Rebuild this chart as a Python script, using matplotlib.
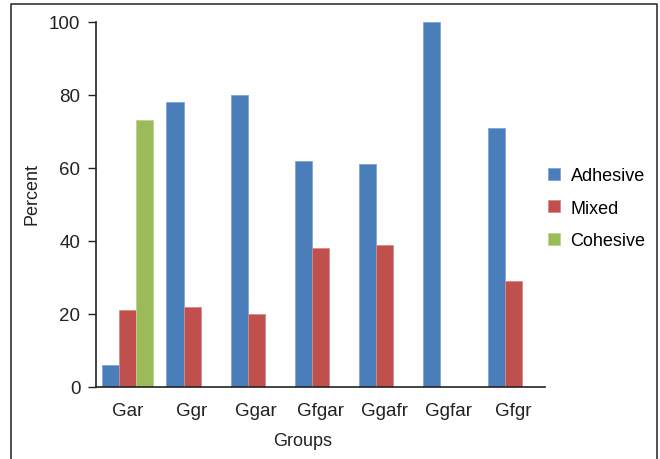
import numpy as np
import matplotlib
matplotlib.use("Agg")
import matplotlib.pyplot as plt
from matplotlib.lines import Line2D

plt.rcParams['font.family'] = ['Liberation Sans', 'DejaVu Sans']

groups = ["Gar", "Ggr", "Ggar", "Gfgar", "Ggafr", "Ggfar", "Gfgr"]
adhesive = [6, 78, 80, 62, 61, 100, 71]
mixed = [21, 22, 20, 38, 39, 0, 29]
cohesive = [73, 0, 0, 0, 0, 0, 0]

series = [("Adhesive", adhesive, "#4A7EBB", "#7FA6D6"),
          ("Mixed", mixed, "#C0504D", "#D98A88"),
          ("Cohesive", cohesive, "#9BBB59", "#BDD38F")]

fig = plt.figure(figsize=(6.6, 4.6), dpi=100)
ax = fig.add_axes([0.145, 0.157, 0.681, 0.793])

x = np.arange(len(groups))
w = 0.265
for i, (name, vals, col, edge) in enumerate(series):
    ax.bar(x + (i - 1) * w, vals, width=w, color=col, edgecolor=edge,
           linewidth=0.6, label=name)

ax.set_xlim(-0.5, len(groups) - 0.5)
ax.set_ylim(0, 100)
ax.set_yticks(range(0, 101, 20))
ax.set_xticks(x)
ax.set_xticklabels(groups)
ax.tick_params(axis='x', length=0, pad=11, labelsize=13.5, colors="#222222")
ax.tick_params(axis='y', length=6, width=1, direction='out', labelsize=13.5,
               pad=5, colors="#222222")
for s in ["top", "right"]:
    ax.spines[s].set_visible(False)
for s in ["left", "bottom"]:
    ax.spines[s].set_linewidth(1.2)
    ax.spines[s].set_color("#222222")

ax.set_xlabel("Groups", fontsize=13, labelpad=9, color="#222222")
ax.set_ylabel("Percent", fontsize=13, labelpad=6, color="#222222")
ax.xaxis.label.set_x(0.46)
ax.yaxis.label.set_y(0.53)

leg = ax.legend(loc='center left', bbox_to_anchor=(0.97, 0.49), frameon=False,
                fontsize=13, handlelength=0.65, handleheight=0.65,
                labelspacing=0.85, handletextpad=0.6)

# outer frame (left, top, right)
fig.add_artist(Line2D([0.016, 0.016, 0.995, 0.995], [0.0, 0.99, 0.99, 0.0],
                      transform=fig.transFigure, color="#333333", linewidth=1.2))

fig.savefig("out.png", dpi=100)
